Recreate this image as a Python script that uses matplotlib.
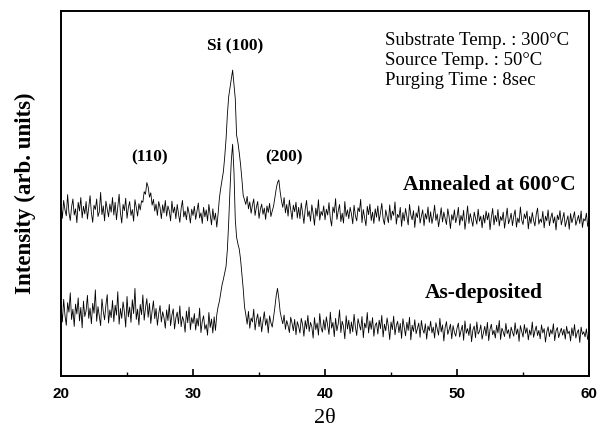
"""
XRD patterns of Si films: as-deposited vs annealed at 600 C.
"""
import numpy as np
import matplotlib
matplotlib.use("Agg")
import matplotlib.pyplot as plt
from matplotlib.ticker import MultipleLocator

# 2-theta grid: 20.0 .. 60.0 in 0.1 deg steps
two_theta_start = 20.0
two_theta_step = 0.1

annealed = [
    470, 432, 481, 455, 439, 497, 448, 426, 463, 485, 441, 458, 420, 476, 452, 489, 433, 465, 444, 478,
    430, 462, 494, 447, 421, 468, 456, 485, 437, 450, 503, 442, 466, 425, 479, 458, 436, 471, 449, 489,
    441, 476, 428, 462, 498, 447, 419, 470, 453, 487, 432, 461, 478, 440, 456, 424, 483, 462, 438, 472,
    455, 480, 476, 505, 498, 530, 518, 490, 502, 468, 484, 452, 471, 440, 478, 462, 431, 469, 447, 481,
    438, 466, 452, 425, 479, 447, 463, 431, 470, 444, 421, 459, 481, 436, 452, 428, 464, 446, 419, 457,
    440, 465, 429, 451, 474, 433, 447, 418, 462, 436, 455, 425, 470, 441, 414, 458, 427, 446, 408, 445,
    488, 515, 538, 560, 600, 648, 715, 765, 790, 815, 838, 800, 760, 660, 640, 612, 580, 540, 495, 482,
    470, 492, 458, 477, 446, 468, 485, 440, 463, 478, 432, 456, 471, 443, 460, 429, 466, 448, 473, 437,
    452, 465, 488, 512, 530, 537, 505, 480, 462, 489, 447, 470, 438, 482, 455, 429, 468, 450, 476, 433,
    462, 431, 474, 446, 418, 458, 481, 437, 452, 424, 469, 445, 413, 460, 438, 483, 427, 451, 440, 466,
    428, 457, 441, 475, 432, 411, 463, 447, 486, 429, 452, 470, 423, 446, 419, 478, 437, 455, 431, 462,
    444, 417, 468, 439, 425, 461, 450, 484, 420, 456, 433, 412, 465, 442, 471, 426, 449, 418, 458, 435,
    466, 424, 447, 473, 431, 415, 455, 438, 420, 469, 427, 452, 440, 477, 416, 443, 434, 462, 410, 448,
    425, 459, 436, 414, 470, 441, 428, 453, 407, 447, 434, 466, 419, 438, 455, 412, 445, 430, 463, 421,
    450, 418, 437, 468, 426, 444, 409, 433, 461, 422, 449, 431, 415, 458, 436, 404, 442, 427, 455, 420,
    436, 462, 413, 440, 425, 454, 402, 431, 466, 418, 445, 428, 410, 449, 433, 416, 457, 424, 438, 406,
    441, 419, 452, 428, 447, 401, 435, 459, 414, 440, 423, 456, 411, 437, 426, 449, 405, 432, 460, 417,
    429, 446, 412, 438, 455, 408, 433, 420, 463, 427, 415, 444, 431, 452, 403, 437, 418, 448, 426, 411,
    443, 460, 416, 430, 421, 451, 406, 438, 425, 455, 412, 433, 447, 419, 436, 400, 441, 428, 453, 414,
    431, 448, 409, 424, 439, 402, 445, 420, 434, 450, 413, 427, 440, 418, 452, 407, 431, 425, 446, 410,
    428,
]

as_deposited = [
    192, 148, 210, 166, 139, 201, 175, 228, 155, 183, 136, 197, 170, 214, 151, 188, 132, 205, 163, 179,
    221, 158, 186, 143, 199, 172, 236, 150, 190, 165, 138, 211, 177, 154, 195, 223, 145, 181, 160, 207,
    149, 194, 167, 231, 142, 185, 158, 203, 176, 134, 218, 162, 189, 147, 209, 171, 240, 155, 183, 140,
    196, 168, 222, 153, 187, 212, 161, 199, 144, 178, 206, 157, 185, 139, 170, 193, 148, 176, 160, 131,
    181, 152, 196, 138, 167, 184, 129, 159, 175, 143, 192, 135, 163, 151, 120, 178, 146, 189, 127, 160,
    144, 171, 126, 158, 137, 186, 119, 150, 165, 128, 141, 112, 174, 133, 156, 118, 162, 125, 168, 190,
    205, 228, 250, 265, 282, 300, 345, 420, 510, 590, 635, 560, 430, 380, 362, 348, 320, 280, 240, 190,
    168, 142, 177, 131, 159, 148, 183, 126, 154, 170, 135, 162, 121, 150, 176, 139, 157, 118, 165, 146,
    134, 160, 188, 220, 240, 212, 176, 158, 143, 167, 128, 152, 138, 119, 161, 145, 124, 155, 113, 149,
    136, 118, 158, 141, 109, 152, 129, 166, 122, 147, 135, 104, 160, 127, 145, 112, 171, 133, 120, 154,
    126, 162, 138, 114, 175, 131, 147, 108, 158, 124, 143, 181, 119, 150, 136, 102, 165, 129, 153, 116,
    148, 121, 169, 134, 111, 157, 140, 126, 163, 105, 145, 132, 174, 118, 151, 128, 160, 109, 139, 146,
    115, 153, 130, 166, 107, 142, 124, 159, 136, 100, 148, 127, 164, 113, 138, 150, 119, 144, 103, 157,
    133, 110, 147, 125, 161, 99, 139, 122, 154, 116, 131, 145, 106, 152, 128, 117, 143, 101, 137, 124,
    150, 118, 134, 104, 146, 129, 112, 158, 121, 140, 96, 133, 149, 114, 127, 142, 102, 138, 120, 109,
    131, 145, 107, 124, 139, 98, 151, 117, 130, 111, 143, 94, 126, 137, 105, 148, 115, 122, 140, 101,
    119, 136, 110, 147, 97, 128, 142, 113, 125, 104, 139, 118, 152, 100, 131, 121, 108, 144, 116, 127,
    103, 134, 120, 109, 146, 114, 129, 95, 138, 122, 107, 141, 117, 132, 99, 126, 112, 148, 106, 123,
    137, 111, 125, 102, 140, 118, 130, 93, 121, 135, 108, 127, 115, 143, 97, 124, 133, 105, 119, 131,
    112, 128, 101, 136, 116, 123, 96, 132, 110, 141, 104, 119, 127, 92, 134, 114, 121, 107, 129, 100,
    117,
]

x_ticks = [20, 30, 40, 50, 60]
conditions = ["Substrate Temp. : 300°C", "Source Temp. : 50°C", "Purging Time : 8sec"]

serif = "Liberation Serif"
sans = "Liberation Sans"


def main():
    two_theta = two_theta_start + two_theta_step * np.arange(len(annealed))

    fig = plt.figure(figsize=(6.06, 4.34), dpi=100)
    ax = fig.add_axes([0.1007, 0.1336, 0.8713, 0.8411])

    ax.plot(two_theta, annealed, color="k", lw=0.6)
    ax.plot(two_theta, as_deposited, color="k", lw=0.6)

    ax.set_xlim(20, 60)
    ax.set_ylim(0, 1000)
    ax.set_yticks([])
    ax.set_xticks(x_ticks)
    ax.xaxis.set_minor_locator(MultipleLocator(5))
    ax.tick_params(axis="x", which="major", direction="in", length=5, width=1.2,
                   pad=8)
    ax.tick_params(axis="x", which="minor", direction="in", length=3, width=1.0)
    for lab in ax.get_xticklabels():
        lab.set_fontfamily(sans)
        lab.set_fontweight("bold")
        lab.set_fontsize(11)
    for sp in ax.spines.values():
        sp.set_linewidth(1.4)

    ax.set_xlabel("2θ", fontfamily=serif, fontsize=16, labelpad=6)
    ax.set_ylabel("Intensity (arb. units)", fontfamily=serif, fontweight="bold",
                  fontsize=16.5, labelpad=18)

    # peak labels
    bold = dict(fontfamily=serif, fontweight="bold", ha="center", va="center")
    ax.text(33.2, 905, "Si (100)", fontsize=12.5, **bold)
    ax.text(26.7, 600, "(110)", fontsize=12.5, **bold)
    ax.text(36.9, 600, "(200)", fontsize=12.5, **bold)

    # sample labels
    ax.text(59.0, 523, "Annealed at 600°C", fontfamily=serif, fontweight="bold",
            fontsize=15.5, ha="right", va="center")
    ax.text(56.5, 227, "As-deposited", fontfamily=serif, fontweight="bold",
            fontsize=15.5, ha="right", va="center")

    # deposition conditions
    for k, line in enumerate(conditions):
        ax.text(44.55, 920 - 55 * k, line, fontfamily=serif, fontsize=13.5,
                ha="left", va="center")

    fig.savefig("out.png", dpi=100)
    plt.close(fig)


if __name__ == "__main__":
    main()
